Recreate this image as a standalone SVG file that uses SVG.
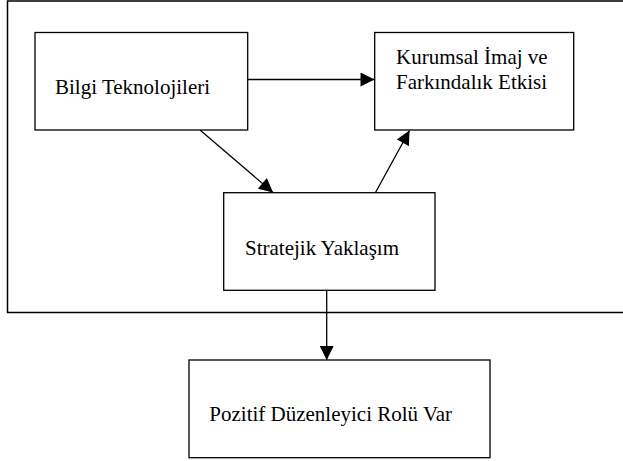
<svg xmlns="http://www.w3.org/2000/svg" width="623" height="461" viewBox="0 0 623 461">
<defs>
<style>
.box{fill:#fff;stroke:#000;stroke-width:1.3}
.lbl{font-family:'Liberation Serif','DejaVu Serif',serif;font-size:21px;fill:#000}
.con{stroke:#000;stroke-width:1.3;fill:none}
</style>
<marker id="ah" viewBox="0 0 10 10" refX="10" refY="5" markerUnits="userSpaceOnUse" markerWidth="15" markerHeight="14" orient="auto">
<path d="M0,0 L10,5 L0,10 Z" fill="#000"/>
</marker>
</defs>
<rect width="623" height="461" fill="#fff"/>
<g id="frame">
<path d="M630,1 H7.5 V312.5 H630" fill="none" stroke="#000" stroke-width="1.5"/>
</g>
<g id="connectors">
<line class="con" x1="248" y1="79.5" x2="374.5" y2="79.5" marker-end="url(#ah)"/>
<line class="con" x1="200" y1="130" x2="273" y2="192.5" marker-end="url(#ah)"/>
<line class="con" x1="375.5" y1="192.5" x2="409.5" y2="130.5" marker-end="url(#ah)"/>
<line class="con" x1="326.7" y1="290.5" x2="326.7" y2="360" marker-end="url(#ah)"/>
</g>
<g id="node-bilgi">
<rect class="box" x="35" y="32.5" width="212.7" height="97.5"/>
<text class="lbl" x="55" y="93.5">Bilgi Teknolojileri</text>
</g>
<g id="node-kurumsal">
<rect class="box" x="374.7" y="32.5" width="199" height="97.5"/>
<text class="lbl" x="396" y="63.5">Kurumsal İmaj ve</text>
<text class="lbl" x="396" y="88.5">Farkındalık Etkisi</text>
</g>
<g id="node-stratejik">
<rect class="box" x="223.7" y="192.7" width="211.3" height="97.6"/>
<text class="lbl" x="245" y="255">Stratejik Yaklaşım</text>
</g>
<g id="node-pozitif">
<rect class="box" x="189" y="360" width="301" height="97.7"/>
<text class="lbl" x="209.3" y="420.5">Pozitif Düzenleyici Rolü Var</text>
</g>
</svg>
